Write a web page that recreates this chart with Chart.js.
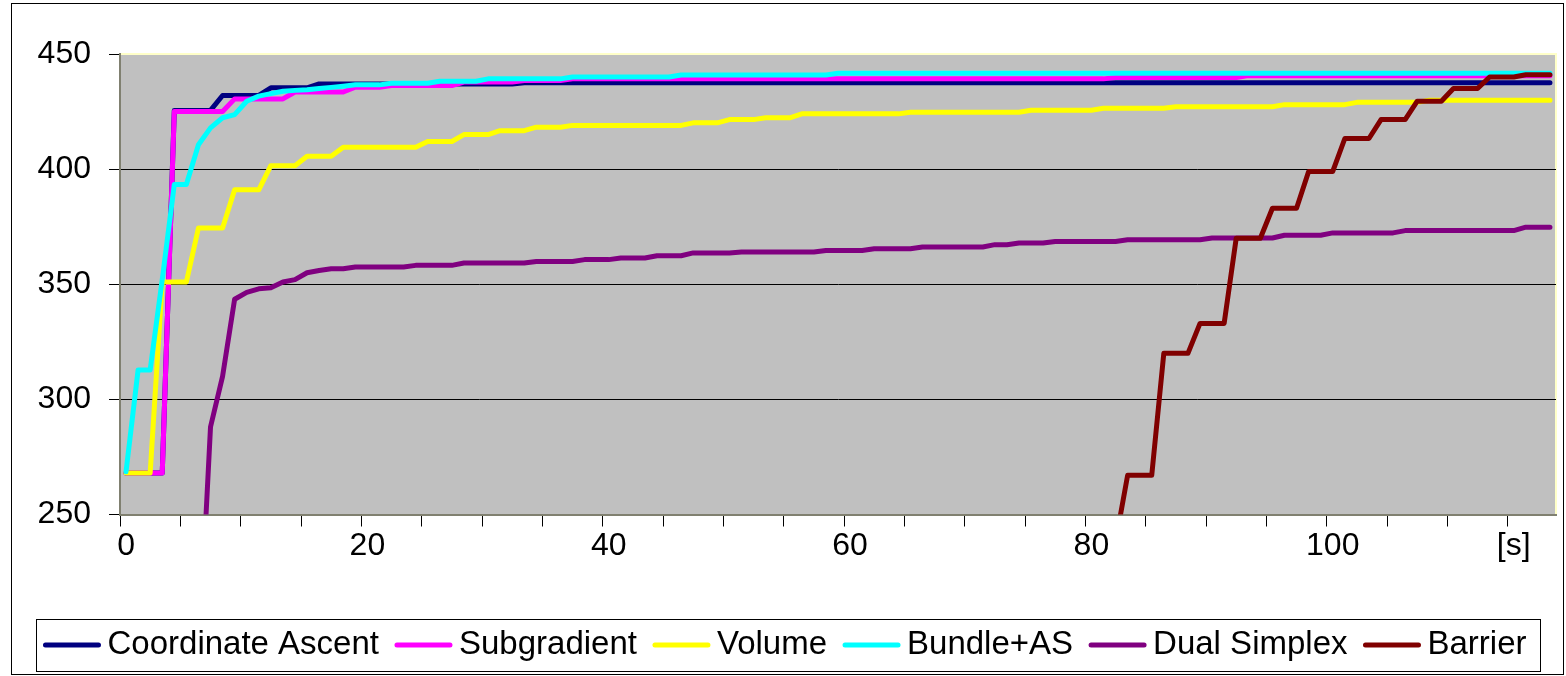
<!DOCTYPE html>
<html>
<head>
<meta charset="utf-8">
<script src="https://cdn.jsdelivr.net/npm/chart.js@4"></script>
<style>
  html, body { margin: 0; padding: 0; background: #fff; }
  #wrap { position: relative; width: 1566px; height: 676px; }
  #frame { position: absolute; left: 11px; top: 3px; width: 1553px; height: 672px; border: 1px solid #000; box-sizing: border-box; pointer-events: none; }
</style>
</head>
<body>
<div id="wrap">
  <canvas id="myChart" width="1566" height="676"></canvas>
  <div id="frame"></div>
</div>
<script>
// Data (time in seconds, one point per second)

const seconds = [
  0, 1, 2, 3, 4, 5, 6, 7, 8, 9,
  10, 11, 12, 13, 14, 15, 16, 17, 18, 19,
  20, 21, 22, 23, 24, 25, 26, 27, 28, 29,
  30, 31, 32, 33, 34, 35, 36, 37, 38, 39,
  40, 41, 42, 43, 44, 45, 46, 47, 48, 49,
  50, 51, 52, 53, 54, 55, 56, 57, 58, 59,
  60, 61, 62, 63, 64, 65, 66, 67, 68, 69,
  70, 71, 72, 73, 74, 75, 76, 77, 78, 79,
  80, 81, 82, 83, 84, 85, 86, 87, 88, 89,
  90, 91, 92, 93, 94, 95, 96, 97, 98, 99,
  100, 101, 102, 103, 104, 105, 106, 107, 108, 109,
  110, 111, 112, 113, 114, 115, 116, 117, 118,
];

const seriesNames = ["Coordinate Ascent", "Subgradient", "Volume", "Bundle+AS", "Dual Simplex", "Barrier"];
const seriesColors = ["#000080", "#ff00ff", "#ffff00", "#00ffff", "#800080", "#800000"];

const coordAscent = [
  268, 268, 268, 268, 425.5, 425.5, 425.5, 425.5, 432, 432,
  432, 432, 435.3, 435.3, 435.3, 435.3, 437, 437, 437, 437,
  437, 437, 437, 437, 437, 437, 437, 437, 437, 437,
  437, 437, 437, 437.5, 437.5, 437.5, 437.5, 437.5, 437.5, 437.5,
  437.5, 437.5, 437.5, 437.5, 437.5, 437.5, 437.5, 437.5, 437.5, 437.5,
  437.5, 437.5, 437.5, 437.5, 437.5, 437.5, 437.5, 437.5, 437.5, 437.5,
  437.5, 437.5, 437.5, 437.5, 437.5, 437.5, 437.5, 437.5, 437.5, 437.5,
  437.5, 437.5, 437.5, 437.5, 437.5, 437.5, 437.5, 437.5, 437.5, 437.5,
  437.5, 437.5, 437.5, 437.5, 437.5, 437.5, 437.5, 437.5, 437.5, 437.5,
  437.5, 437.5, 437.5, 437.5, 437.5, 437.5, 437.5, 437.5, 437.5, 437.5,
  437.5, 437.5, 437.5, 437.5, 437.5, 437.5, 437.5, 437.5, 437.5, 437.5,
  437.5, 437.5, 437.5, 437.5, 437.5, 437.5, 437.5, 437.5, 437.5,
];

const subgradient = [
  268, 268, 268, 268, 425, 425, 425, 425, 425, 430.5,
  430.5, 430.5, 430.5, 430.5, 433.5, 433.5, 433.5, 433.5, 433.5, 435.6,
  435.6, 435.6, 436.3, 436.3, 436.3, 436.3, 436.3, 436.3, 437.8, 437.8,
  437.8, 437.8, 437.8, 438.5, 438.5, 438.5, 438.5, 439.2, 439.2, 439.2,
  439.2, 439.2, 439.2, 439.2, 439.2, 439.2, 439.2, 439.2, 439.2, 439.2,
  439.2, 439.2, 439.2, 439.2, 439.2, 439.2, 439.2, 439.2, 439.2, 439.2,
  439.2, 439.2, 439.2, 439.2, 439.2, 439.2, 439.2, 439.2, 439.2, 439.2,
  439.2, 439.2, 439.2, 439.2, 439.2, 439.2, 439.2, 439.2, 439.2, 439.2,
  439.2, 439.2, 439.8, 439.8, 439.8, 439.8, 439.8, 439.8, 439.8, 439.8,
  439.8, 439.8, 439.8, 440.6, 440.6, 440.6, 440.6, 440.6, 440.6, 440.6,
  440.6, 440.6, 440.6, 440.6, 440.6, 440.6, 440.6, 440.6, 440.6, 440.6,
  440.6, 440.6, 440.6, 440.6, 440.6, 440.6, 440.6, 440.6, 440.6,
];

const volume = [
  268, 268, 268, 351, 351, 351, 374.4, 374.4, 374.4, 391,
  391, 391, 401.5, 401.5, 401.5, 405.6, 405.6, 405.6, 409.5, 409.5,
  409.5, 409.5, 409.5, 409.5, 409.5, 412, 412, 412, 415, 415,
  415, 416.7, 416.7, 416.7, 418.2, 418.2, 418.2, 419, 419, 419,
  419, 419, 419, 419, 419, 419, 419, 420.1, 420.1, 420.1,
  421.5, 421.5, 421.5, 422.3, 422.3, 422.3, 424, 424, 424, 424,
  424, 424, 424, 424, 424, 424.7, 424.7, 424.7, 424.7, 424.7,
  424.7, 424.7, 424.7, 424.7, 424.7, 425.6, 425.6, 425.6, 425.6, 425.6,
  425.6, 426.4, 426.4, 426.4, 426.4, 426.4, 426.4, 427.1, 427.1, 427.1,
  427.1, 427.1, 427.1, 427.1, 427.1, 427.1, 428, 428, 428, 428,
  428, 428, 429, 429, 429, 429, 429, 429, 429.9, 429.9,
  429.9, 429.9, 429.9, 429.9, 429.9, 429.9, 429.9, 429.9, 429.9,
];

const bundleAS = [
  268.6, 312.8, 312.8, 352, 393.3, 393.3, 410.6, 417.9, 422.3, 423.7,
  429.5, 431.7, 432.8, 433.8, 434.2, 434.5, 435, 435.5, 436, 436.6,
  436.6, 436.6, 437.3, 437.3, 437.3, 437.3, 438.2, 438.2, 438.2, 438.2,
  439.2, 439.2, 439.2, 439.2, 439.2, 439.2, 439.2, 440, 440, 440,
  440, 440, 440, 440, 440, 440, 440.9, 440.9, 440.9, 440.9,
  440.9, 440.9, 440.9, 440.9, 440.9, 440.9, 440.9, 440.9, 440.9, 441.6,
  441.6, 441.6, 441.6, 441.6, 441.6, 441.6, 441.6, 441.6, 441.6, 441.6,
  441.6, 441.6, 441.6, 441.6, 441.6, 441.6, 441.6, 441.6, 441.6, 441.6,
  441.6, 441.6, 441.6, 441.6, 441.6, 441.6, 441.6, 441.6, 441.6, 441.6,
  441.6, 441.6, 441.6, 441.6, 441.6, 441.6, 441.6, 441.6, 441.6, 441.6,
  441.6, 441.6, 441.6, 441.6, 441.6, 441.6, 441.6, 441.6, 441.6, 441.6,
  441.6, 441.6, 441.6, 441.6, 441.6, 441.6, 441.6, 441.6, 441.6,
];

const dualSimplex = [
  null, null, null, null, null, null, 185, 288, 310, 343.5,
  346.5, 348, 348.5, 351, 352, 355, 356, 356.7, 356.7, 357.5,
  357.5, 357.5, 357.5, 357.5, 358.2, 358.2, 358.2, 358.2, 359.2, 359.2,
  359.2, 359.2, 359.2, 359.2, 359.9, 359.9, 359.9, 359.9, 360.7, 360.7,
  360.7, 361.4, 361.4, 361.4, 362.4, 362.4, 362.4, 363.6, 363.6, 363.6,
  363.6, 364, 364, 364, 364, 364, 364, 364, 364.7, 364.7,
  364.7, 364.7, 365.4, 365.4, 365.4, 365.4, 366.2, 366.2, 366.2, 366.2,
  366.2, 366.2, 367.2, 367.2, 367.9, 367.9, 367.9, 368.6, 368.6, 368.6,
  368.6, 368.6, 368.6, 369.3, 369.3, 369.3, 369.3, 369.3, 369.3, 369.3,
  370.1, 370.1, 370.1, 370.1, 370.1, 370.1, 371.3, 371.3, 371.3, 371.3,
  372.3, 372.3, 372.3, 372.3, 372.3, 372.3, 373.3, 373.3, 373.3, 373.3,
  373.3, 373.3, 373.3, 373.3, 373.3, 373.3, 374.8, 374.8, 374.8,
];

const barrier = [
  null, null, null, null, null, null, null, null, null, null,
  null, null, null, null, null, null, null, null, null, null,
  null, null, null, null, null, null, null, null, null, null,
  null, null, null, null, null, null, null, null, null, null,
  null, null, null, null, null, null, null, null, null, null,
  null, null, null, null, null, null, null, null, null, null,
  null, null, null, null, null, null, null, null, null, null,
  null, null, null, null, null, null, null, null, null, null,
  null, null, 238, 267, 267, 267, 320, 320, 320, 333,
  333, 333, 370, 370, 370, 383, 383, 383, 399, 399,
  399, 413.3, 413.3, 413.3, 421.5, 421.5, 421.5, 429.5, 429.5, 429.5,
  435, 435, 435, 440, 440, 440, 441, 441, 441,
];

// Axis tick labels

const yTicks = [250, 300, 350, 400, 450];
const xTickAt = [0, 20, 40, 60, 80, 100, 115];
const xTickText = ["0", "20", "40", "60", "80", "100", "[s]"];

// Plugins

const fontFamily = "'Liberation Sans', Arial, sans-serif";

const plotBackground = {
  id: "plotBackground",
  beforeDraw(chart) {
    const c = chart.ctx;
    const a = chart.chartArea;
    c.save();
    c.fillStyle = "#c0c0c0";
    c.fillRect(a.left, a.top, a.right - a.left, a.bottom - a.top);
    c.strokeStyle = "#ffffc8";
    c.lineWidth = 2;
    c.beginPath();
    c.moveTo(a.left, a.top);
    c.lineTo(a.right, a.top);
    c.lineTo(a.right, a.bottom);
    c.stroke();
    c.restore();
  },
};

const bottomLegend = {
  id: "bottomLegend",
  afterDraw(chart) {
    const c = chart.ctx;
    const sample = 57, gap = 7, between = 16, y = 645;
    c.save();
    c.font = "33px " + fontFamily;
    const widths = chart.data.datasets.map(ds => c.measureText(ds.label).width);
    const total = widths.reduce((s, w) => s + sample + gap + w, 0) + between * (widths.length - 1);
    let x = 785 - total / 2;
    c.strokeStyle = "#000";
    c.lineWidth = 1;
    c.strokeRect(Math.round(x - 7) + 0.5, 619.5, Math.round(total + 21), 52);
    chart.data.datasets.forEach((ds, i) => {
      c.strokeStyle = ds.borderColor;
      c.lineWidth = 5;
      c.lineCap = "round";
      c.beginPath();
      c.moveTo(x + 2, y);
      c.lineTo(x + sample - 2, y);
      c.stroke();
      x += sample + gap;
      c.fillStyle = "#000";
      c.textBaseline = "middle";
      c.textAlign = "left";
      c.fillText(ds.label, x, y);
      x += widths[i] + between;
    });
    c.restore();
  },
};

// Chart

const seriesData = [coordAscent, subgradient, volume, bundleAS, dualSimplex, barrier];

const datasets = seriesNames.map((name, i) => ({
  label: name,
  data: seriesData[i],
  borderColor: seriesColors[i],
  backgroundColor: seriesColors[i],
  borderWidth: 5,
  pointRadius: 0,
  tension: 0,
  borderJoinStyle: "round",
  borderCapStyle: "round",
  order: seriesNames.length - i,
}));

Chart.defaults.font.family = fontFamily;

const ctx = document.getElementById("myChart").getContext("2d");
const chart = new Chart(ctx, {
  type: "line",
  data: { labels: seconds, datasets: datasets },
  plugins: [plotBackground, bottomLegend],
  options: {
    responsive: false,
    animation: false,
    devicePixelRatio: 1,
    layout: { padding: { left: 0, top: 54, right: 10, bottom: 0 } },
    plugins: { legend: { display: false }, tooltip: { enabled: false } },
    scales: {
      x: {
        type: "category",
        offset: true,
        grid: {
          offset: true,
          drawOnChartArea: false,
          tickLength: 12,
          tickColor: c => (c.index % 5 === 0 ? "#000" : "rgba(0,0,0,0)"),
        },
        border: { color: "#808070", width: 2 },
        ticks: {
          autoSkip: false,
          maxRotation: 0,
          minRotation: 0,
          padding: 0,
          color: "#000",
          font: { size: 32 },
          callback: (value, index) => {
            const j = xTickAt.indexOf(index);
            return j >= 0 ? xTickText[j] : "";
          },
        },
        afterFit: s => { s.height = 161.5; },
      },
      y: {
        min: yTicks[0],
        max: yTicks[yTicks.length - 1],
        afterBuildTicks: s => { s.ticks = yTicks.map(v => ({ value: v })); },
        grid: {
          color: c => (c.tick && (c.tick.value === 250 || c.tick.value === 450) ? "rgba(0,0,0,0)" : "#000"),
          tickColor: "#000",
          tickLength: 11,
        },
        border: { color: "#808070", width: 2 },
        ticks: { padding: 18, color: "#000", font: { size: 32 } },
        afterFit: s => { s.width = 120; },
      },
    },
  },
});
</script>
</body>
</html>
